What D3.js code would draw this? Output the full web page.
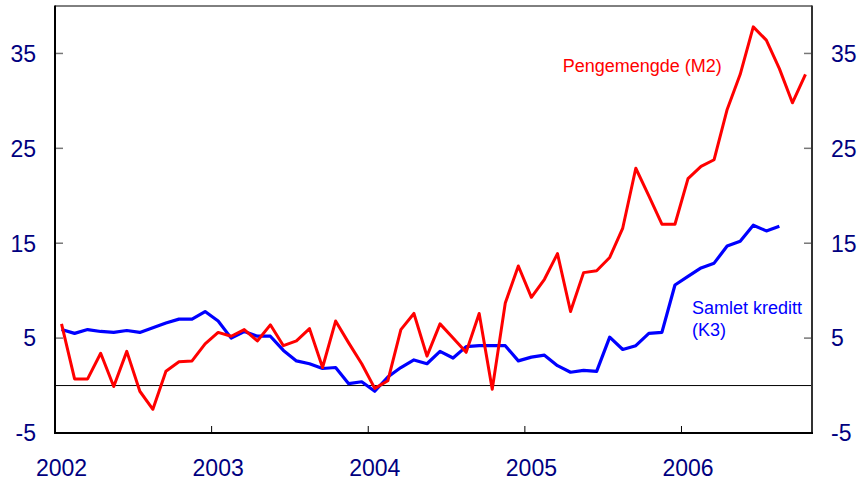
<!DOCTYPE html>
<html>
<head>
<meta charset="utf-8">
<script src="https://cdn.jsdelivr.net/npm/d3@7/dist/d3.min.js"></script>
<style>
	body { margin: 0; background: #fff; }
	text { font-family: "Liberation Sans", Arial, sans-serif; }
</style>
</head>
<body>
<script>
// monthly series, first value = Jan 2002
const years = ["2002", "2003", "2004", "2005", "2006"];
const yTicks = [-5, 5, 15, 25, 35];
const m2 = [6.5, 0.7, 0.7, 3.4, -0.1, 3.6, -0.6, -2.5, 1.5, 2.5, 2.6, 4.4,
	5.6, 5.2, 5.9, 4.7, 6.4, 4.2, 4.7, 6.0, 1.9, 6.8, 4.5, 2.3,
	-0.3, 0.5, 5.9, 7.6, 3.1, 6.5, 5.0, 3.5, 7.6, -0.4, 8.7, 12.6,
	9.3, 11.2, 13.9, 7.8, 11.9, 12.1, 13.5, 16.6, 22.9, 20.0, 17.0, 17.0,
	21.8, 23.1, 23.8, 29.1, 32.8, 37.8, 36.4, 33.4, 29.8, 32.8];
const k3 = [5.9, 5.5, 5.9, 5.7, 5.6, 5.8, 5.6, 6.1, 6.6, 7.0, 7.0, 7.8,
	6.8, 5.0, 5.7, 5.2, 5.2, 3.7, 2.6, 2.3, 1.8, 1.9, 0.2, 0.4,
	-0.6, 0.9, 1.9, 2.7, 2.3, 3.6, 2.9, 4.1, 4.2, 4.2, 4.2, 2.6,
	3.0, 3.2, 2.1, 1.4, 1.6, 1.5, 5.1, 3.8, 4.2, 5.5, 5.6, 10.6,
	11.5, 12.4, 12.9, 14.7, 15.2, 16.9, 16.3, 16.8];

var width = 860, height = 484;
var plotLeft = 55, plotRight = 812, plotTop = 6, plotBottom = 433;

var svg = d3.select("body").append("svg")
	.attr("width", width)
	.attr("height", height);

svg.append("rect").attr("width", width).attr("height", height).attr("fill", "#fff");

// x in months since Jan 2002
var x = d3.scaleLinear().domain([0, 58]).range([plotLeft, plotRight]);
var y = d3.scaleLinear().domain([-5, 40]).range([plotBottom, plotTop]);

var navy = "#000080";

// zero line
svg.append("line")
	.attr("x1", plotLeft).attr("x2", plotRight)
	.attr("y1", y(0)).attr("y2", y(0))
	.attr("stroke", "#000").attr("stroke-width", 1);

// y ticks (inward on both sides)
yTicks.forEach(function (t) {
	if (t === -5) return;
	svg.append("line").attr("x1", plotLeft).attr("x2", plotLeft + 8)
		.attr("y1", y(t)).attr("y2", y(t)).attr("stroke", "#777").attr("stroke-width", 1.5);
	svg.append("line").attr("x1", plotRight - 8).attr("x2", plotRight)
		.attr("y1", y(t)).attr("y2", y(t)).attr("stroke", "#777").attr("stroke-width", 1.5);
});

svg.append("g").selectAll("text")
	.data(yTicks).enter().append("text")
	.attr("x", 36).attr("y", (d) => y(d))
	.attr("dy", "0.36em")
	.attr("text-anchor", "end")
	.attr("font-size", 23).attr("fill", navy)
	.text((d) => d);

svg.append("g").selectAll("text")
	.data(yTicks).enter().append("text")
	.attr("x", 831).attr("y", (d) => y(d))
	.attr("dy", "0.36em")
	.attr("text-anchor", "start")
	.attr("font-size", 23).attr("fill", navy)
	.text((d) => d);

// x ticks at each January, labels centred on the January point
years.forEach(function (yr, i) {
	if (i > 0) {
		svg.append("line").attr("x1", x(i * 12)).attr("x2", x(i * 12))
			.attr("y1", plotBottom).attr("y2", plotBottom - 7)
			.attr("stroke", "#000").attr("stroke-width", 1);
	}
	svg.append("text")
		.attr("x", x(i * 12 + 0.5)).attr("y", 476)
		.attr("text-anchor", "middle")
		.attr("font-size", 23).attr("fill", navy)
		.text(yr);
});

// frame
svg.append("line").attr("x1", plotLeft).attr("x2", plotRight).attr("y1", plotTop).attr("y2", plotTop)
	.attr("stroke", "#000").attr("stroke-width", 1);
svg.append("line").attr("x1", plotRight).attr("x2", plotRight).attr("y1", plotTop - 0.5).attr("y2", plotBottom)
	.attr("stroke", "#333").attr("stroke-width", 2);
svg.append("line").attr("x1", plotLeft).attr("x2", plotLeft).attr("y1", plotTop - 0.5).attr("y2", plotBottom + 1)
	.attr("stroke", "#000").attr("stroke-width", 2);
svg.append("line").attr("x1", plotLeft).attr("x2", plotRight + 1).attr("y1", plotBottom).attr("y2", plotBottom)
	.attr("stroke", "#000").attr("stroke-width", 2);

var line = d3.line()
	.x((d, i) => x(i + 0.5))
	.y((d) => y(d));

svg.append("path").datum(k3)
	.attr("d", line)
	.attr("fill", "none").attr("stroke", "#0000ff")
	.attr("stroke-width", 3.2).attr("stroke-linejoin", "round");

svg.append("path").datum(m2)
	.attr("d", line)
	.attr("fill", "none").attr("stroke", "#ff0000")
	.attr("stroke-width", 3).attr("stroke-linejoin", "round");

// series labels
svg.append("text")
	.attr("x", x(38.9)).attr("y", y(33.0))
	.attr("font-size", 18).attr("fill", "#ff0000")
	.text("Pengemengde (M2)");

var k3Label = svg.append("text")
	.attr("x", x(48.8)).attr("y", y(7.5))
	.attr("font-size", 18).attr("fill", "#0000ff");
k3Label.append("tspan").text("Samlet kreditt");
k3Label.append("tspan").attr("x", x(48.8)).attr("dy", 22).text("(K3)");
</script>
</body>
</html>
